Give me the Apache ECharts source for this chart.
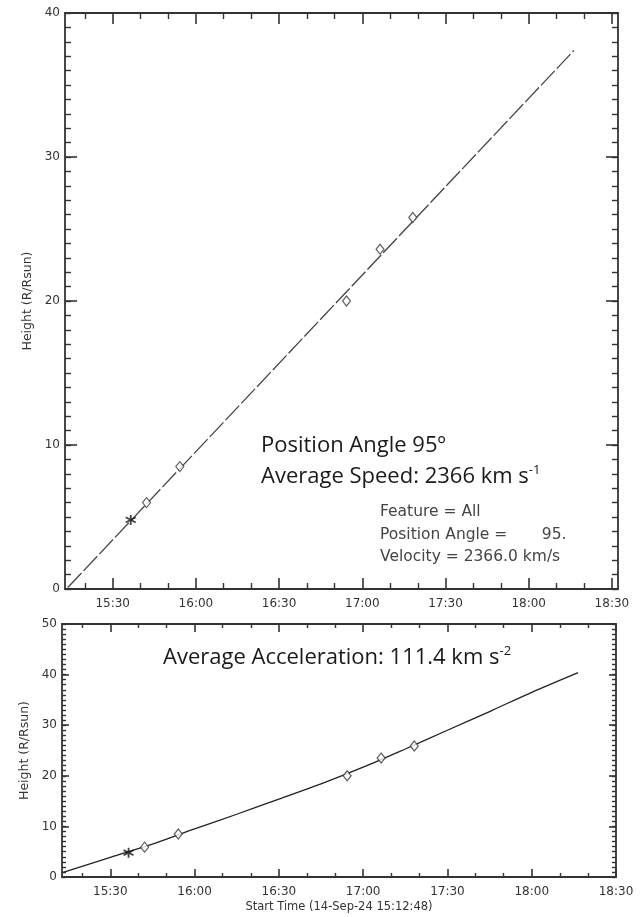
<!DOCTYPE html>
<html>
<head>
<meta charset="utf-8">
<script src="https://cdn.jsdelivr.net/npm/echarts@6/dist/echarts.min.js"></script>
<style>
  html, body { margin: 0; padding: 0; background: #fff; }
  #main { width: 644px; height: 917px; }
</style>
</head>
<body>
<div id="main"></div>
<script>
// time in minutes after 00:00 UT, 14-Sep-24
var startMin = 912.8;        // 15:12:48
var topEndMin = 1112.2;
var bottomEndMin = 1110;     // 18:30

var majorTicks = [930, 960, 990, 1020, 1050, 1080, 1110];
var tickLabels = ['15:30', '16:00', '16:30', '17:00', '17:30', '18:00', '18:30'];
var minorTicks = [920, 940, 950, 970, 980, 1000, 1010, 1030, 1040, 1060, 1070, 1090, 1100];

// measured points (first one drawn as asterisk)
var pointTimes = [936.5, 942.2, 954.2, 1014.3, 1026.4, 1038.2];
var topHeights = [4.8, 6.0, 8.5, 20.0, 23.6, 25.8];
var bottomHeights = [4.8, 5.9, 8.5, 20.0, 23.5, 25.9];

// linear fit (top)
var fitTimes = [913.8, 1096.3];
var fitHeights = [0.1, 37.4];

// quadratic fit (bottom)
var curveTimes = [913.2, 930, 945, 960, 975, 990, 1005, 1020, 1035, 1050, 1065, 1080, 1096.5];
var curveHeights = [0.9, 3.9, 6.5, 9.5, 12.4, 15.4, 18.4, 21.7, 25.3, 29.0, 32.7, 36.5, 40.4];

function pairs(xs, ys) {
    var out = [];
    for (var i = 0; i < xs.length; i++) {
        out.push([xs[i], ys[i]]);
    }
    return out;
}

var ink = '#333';

function timeLabel(v) {
    var i = majorTicks.indexOf(v);
    return i >= 0 ? tickLabels[i] : '';
}

// 4 x axes per grid: bottom major/minor, top major/minor
function xAxes(grid, max, majorLen, minorLen) {
    var list = [];
    ['bottom', 'top'].forEach(function (pos) {
        list.push({
            type: 'value', gridIndex: grid, position: pos,
            min: startMin, max: max,
            axisLine: { show: true, onZero: false, lineStyle: { color: ink, width: 1.8 } },
            axisTick: { show: true, inside: true, length: majorLen, customValues: majorTicks,
                        lineStyle: { color: ink, width: 1.6 } },
            axisLabel: { show: pos === 'bottom', customValues: majorTicks, formatter: timeLabel,
                         margin: 9, fontFamily: 'DejaVu Sans', fontSize: 12, color: ink },
            splitLine: { show: false },
            name: (grid === 1 && pos === 'bottom') ? 'Start Time (14-Sep-24 15:12:48)' : '',
            nameLocation: 'middle', nameGap: 24,
            nameTextStyle: { fontFamily: 'DejaVu Sans', fontSize: 11.5, color: ink }
        });
        list.push({
            type: 'value', gridIndex: grid, position: pos,
            min: startMin, max: max,
            axisLine: { show: false, onZero: false },
            axisTick: { show: true, inside: true, length: minorLen, customValues: minorTicks,
                        lineStyle: { color: ink, width: 1.4 } },
            axisLabel: { show: false },
            splitLine: { show: false }
        });
    });
    return list;
}

// 4 y axes per grid: left major/minor, right major/minor
function yAxes(grid, max, majorLen, minorLen) {
    var list = [];
    ['left', 'right'].forEach(function (pos) {
        list.push({
            type: 'value', gridIndex: grid, position: pos,
            min: 0, max: max, interval: 10,
            axisLine: { show: true, onZero: false, lineStyle: { color: ink, width: 1.8 } },
            axisTick: { show: true, inside: true, length: majorLen, lineStyle: { color: ink, width: 1.6 } },
            axisLabel: { show: pos === 'left', margin: 5, fontFamily: 'DejaVu Sans', fontSize: 12, color: ink },
            splitLine: { show: false },
            name: pos === 'left' ? 'Height (R/Rsun)' : '',
            nameLocation: 'middle', nameGap: 28,
            nameTextStyle: { fontFamily: 'DejaVu Sans', fontSize: 12.5, color: ink }
        });
        list.push({
            type: 'value', gridIndex: grid, position: pos,
            min: 0, max: max, interval: 1,
            axisLine: { show: false, onZero: false },
            axisTick: { show: true, inside: true, length: minorLen, lineStyle: { color: ink, width: 1.4 } },
            axisLabel: { show: false },
            splitLine: { show: false }
        });
    });
    return list;
}

var starPath = 'path://M0,-5L0,5M-4.5,-2.6L4.5,2.6M-4.5,2.6L4.5,-2.6';

function pointSeries(xi, yi, heights) {
    return [
        {
            type: 'scatter', xAxisIndex: xi, yAxisIndex: yi,
            data: pairs(pointTimes.slice(1), heights.slice(1)),
            symbol: 'diamond', symbolSize: [8, 10],
            itemStyle: { color: '#fff', borderColor: ink, borderWidth: 1.2 },
            z: 5
        },
        {
            type: 'scatter', xAxisIndex: xi, yAxisIndex: yi,
            data: pairs(pointTimes.slice(0, 1), heights.slice(0, 1)),
            symbol: starPath, symbolSize: 10,
            itemStyle: { color: 'none', borderColor: '#111', borderWidth: 1.8 },
            z: 5
        }
    ];
}

var bigFont = { fontFamily: 'Open Sans', fontSize: 22, fill: '#1a1a1a' };
var supStyle = { fontFamily: 'Open Sans', fontSize: 13, fill: '#1a1a1a', verticalAlign: 'bottom', padding: [0, 0, 14, 0] };

var chart = echarts.init(document.getElementById('main'));
chart.setOption({
    backgroundColor: '#fff',
    animation: false,
    grid: [
        { left: 65, top: 13, width: 553, height: 576 },
        { left: 62, top: 624, width: 554, height: 253 }
    ],
    xAxis: xAxes(0, topEndMin, 11, 6).concat(xAxes(1, bottomEndMin, 8, 4)),
    yAxis: yAxes(0, 40, 12, 6).concat(yAxes(1, 50, 7, 4)),
    series: [
        {
            type: 'line', xAxisIndex: 0, yAxisIndex: 0,
            data: pairs(fitTimes, fitHeights),
            symbol: 'none',
            lineStyle: { color: '#444', width: 1.3, type: [20, 3] }
        },
        {
            type: 'line', xAxisIndex: 4, yAxisIndex: 4,
            data: pairs(curveTimes, curveHeights),
            symbol: 'none', smooth: 0.3,
            lineStyle: { color: '#222', width: 1.3 }
        }
    ].concat(pointSeries(0, 0, topHeights), pointSeries(4, 4, bottomHeights)),
    graphic: [
        {
            type: 'text', x: 261, y: 446,
            style: Object.assign({ text: 'Position Angle 95º', verticalAlign: 'middle' }, bigFont)
        },
        {
            type: 'text', x: 261, y: 477,
            style: Object.assign({ text: 'Average Speed: 2366 km s{sup|-1}', verticalAlign: 'middle',
                                   rich: { sup: supStyle } }, bigFont)
        },
        {
            type: 'text', x: 163, y: 658,
            style: Object.assign({ text: 'Average Acceleration: 111.4 km s{sup|-2}', verticalAlign: 'middle',
                                   rich: { sup: supStyle } }, bigFont)
        },
        {
            type: 'text', x: 380, y: 501,
            style: {
                text: 'Feature = All\nPosition Angle =       95.\nVelocity = 2366.0 km/s',
                fontFamily: 'DejaVu Sans', fontSize: 15.5, lineHeight: 22.5,
                fill: '#444', verticalAlign: 'top'
            }
        }
    ]
});
</script>
</body>
</html>
